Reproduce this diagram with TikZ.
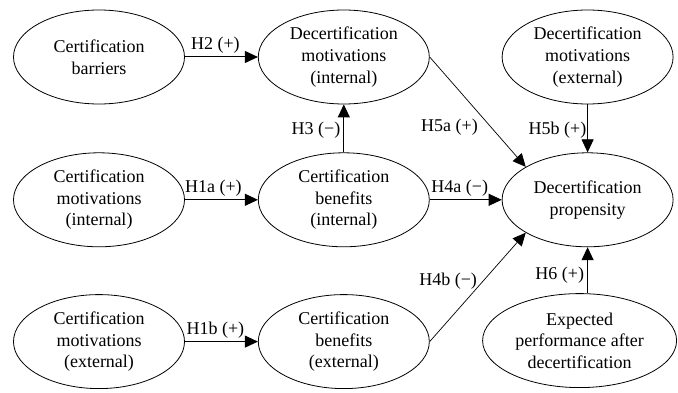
\documentclass[tikz,border=0pt]{standalone}
\usepackage{fontspec}
\setmainfont{Liberation Serif}
\usetikzlibrary{positioning,arrows.meta,shapes}

\begin{document}
\begin{tikzpicture}[x=1pt,y=-1pt,node distance=48pt and 73pt,
    font=\fontsize{18pt}{21.7pt}\selectfont,
    construct/.style={draw,ellipse,line width=0.8pt,inner sep=0pt,minimum width=171pt,minimum height=94pt,align=center},
    hyp/.style={-{Triangle[length=13pt,width=12pt]},line width=1pt},
    thinhyp/.style={-{Triangle[length=13pt,width=12pt]},line width=0.7pt},
    lbl/.style={inner sep=3pt}]
\useasboundingbox (0,0) rectangle (678,393);
  \node[construct] (barr) at (99,57) {Certification\\barriers};
  \node[construct, right=73pt of barr] (dmi) {Decertification\\motivations\\(internal)};
  \node[construct, below=48pt of barr] (cmi) {Certification\\motivations\\(internal)};
  \node[construct, right=73pt of cmi] (cbi) {Certification\\benefits\\(internal)};
  \node[construct, right=72pt of cbi] (dp) {Decertification\\propensity};
  \node[construct, above=48pt of dp] (dme) {Decertification\\motivations\\(external)};
  \node[construct, below=47pt of cmi] (cme) {Certification\\motivations\\(external)};
  \node[construct, right=73pt of cme] (cbe) {Certification\\benefits\\(external)};
  \node[construct, minimum width=194pt, below=46pt of dp, xshift=-8pt] (ep) {Expected\\performance after\\decertification};
 \path[hyp] (barr) edge node[lbl,above,xshift=-6pt] {H2 (+)} (dmi);
 \path[hyp] (cmi) edge node[lbl,above,xshift=-8pt] {H1a (+)} (cbi);
 \path[hyp] (cme) edge node[lbl,above,xshift=-6pt] {H1b (+)} (cbe);
 \path[hyp] (cbi) edge node[lbl,left,yshift=-2pt] {H3 (−)} (dmi);
 \path[thinhyp] (cbi) edge node[lbl,above,xshift=-6pt] {H4a (−)} (dp);
 \path[thinhyp] (dmi.east) edge node[lbl,left,pos=0.64,xshift=-10pt] {H5a (+)} (dp.152);
 \path[thinhyp] (dme) edge node[lbl,left,xshift=2pt,yshift=-2pt] {H5b (+)} (dp);
 \path[thinhyp] (cbe.east) edge node[lbl,left,pos=0.6,xshift=-7pt,yshift=-5pt] {H4b (−)} (dp.208);
 \path[hyp] (ep.north -| dp.south) edge node[lbl,left,pos=0.4] {H6 (+)} (dp.south);
\end{tikzpicture}
\end{document}
